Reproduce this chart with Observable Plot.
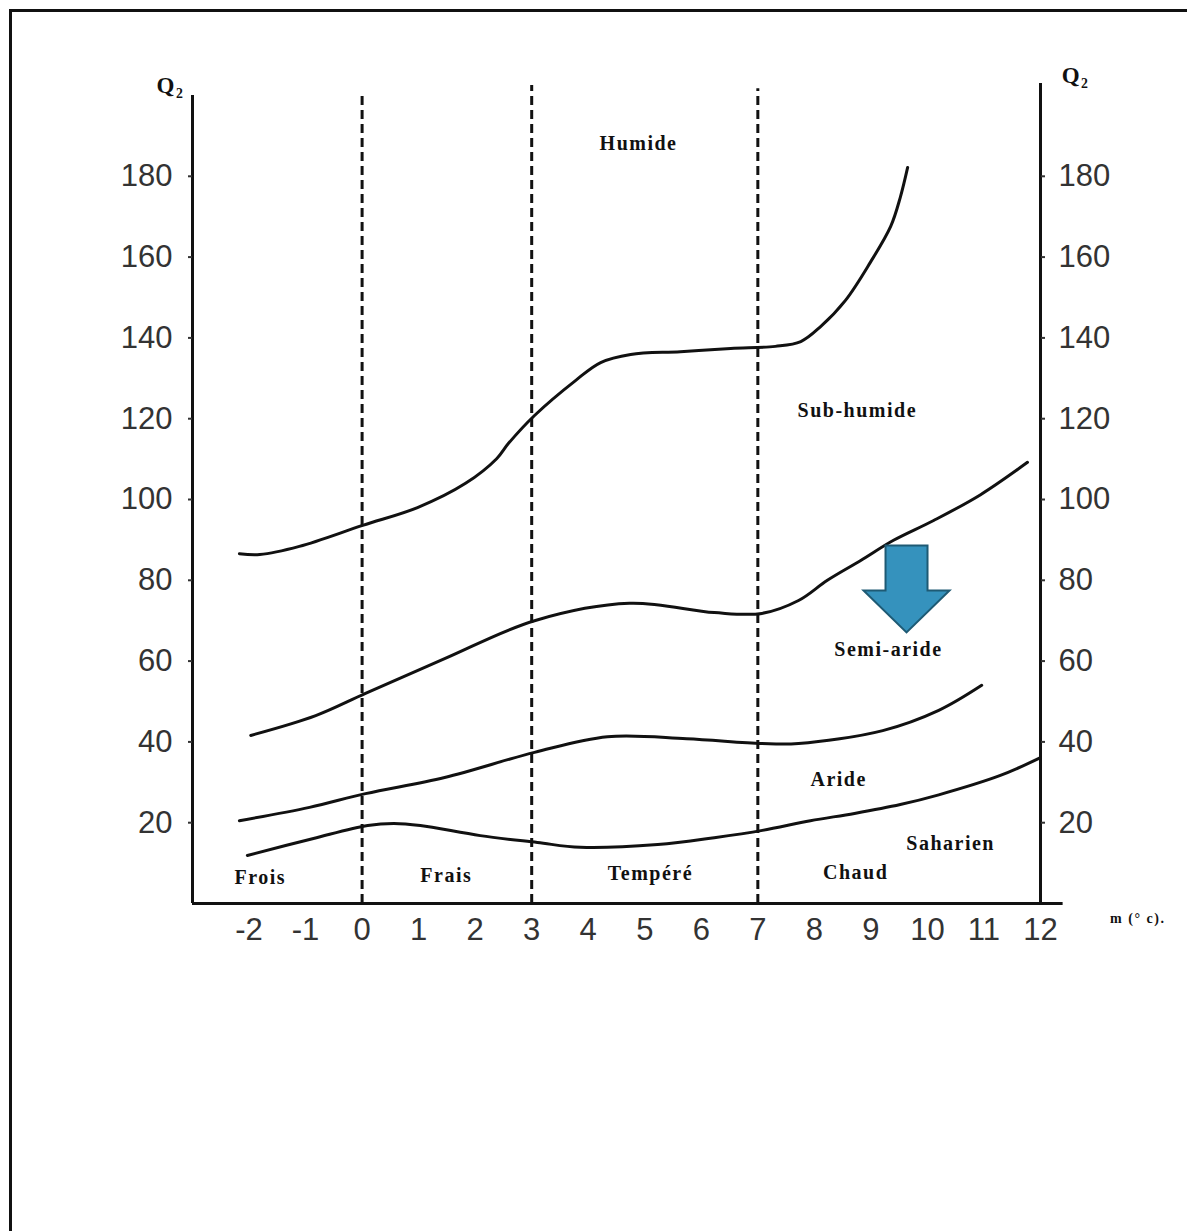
<!DOCTYPE html>
<html><head><meta charset="utf-8">
<script src="https://cdn.jsdelivr.net/npm/d3@7"></script>
<script src="https://cdn.jsdelivr.net/npm/@observablehq/plot@0.6"></script>
<style>
html,body{margin:0;padding:0;background:#fff;}
#wrap{position:relative;width:1187px;height:1231px;overflow:hidden;background:#fff;}
#frame{position:absolute;left:9px;top:9px;right:-20px;bottom:-20px;border-left:3px solid #111;border-top:3px solid #111;pointer-events:none;}
</style></head><body>
<div id="wrap"><div id="chart"></div><div id="frame"></div></div>
<script>
// ---- data ----
const xTicks = [-2,-1,0,1,2,3,4,5,6,7,8,9,10,11,12];
const yTicks = [20,40,60,80,100,120,140,160,180];
const limitM = [0,3,7];
const limitTop = [201,202.5,201.7];

const curveHumide = [[-2.17,86.6],[-1.81,86.4],[-1.11,88.4],[0.01,93.6],[0.98,98.0],[1.83,104.0],[2.38,110.1],[2.59,113.9],[3.05,120.8],[3.78,129.5],[4.22,133.9],[4.75,135.9],[5.63,136.6],[6.52,137.4],[7.31,137.9],[7.76,139.1],[8.11,142.8],[8.55,149.3],[8.99,158.7],[9.35,167.6],[9.52,174.8],[9.65,182.2]];
const curveSubHumide = [[-1.97,41.6],[-0.82,46.5],[0.06,52.0],[1.46,60.6],[3.05,70.0],[4.73,74.3],[6.23,72.0],[7.07,71.8],[7.72,75.0],[8.23,80.0],[8.82,84.9],[9.40,89.9],[10.11,94.8],[10.94,101.2],[11.77,109.2]];
const curveSemiAride = [[-2.17,20.5],[-0.93,23.8],[0.06,27.2],[1.46,31.2],[3.05,37.4],[4.34,41.3],[5.74,40.8],[7.07,39.6],[7.72,39.6],[9.21,42.8],[10.20,47.8],[10.96,54.0]];
const curveAride = [[-2.03,11.9],[-0.86,16.1],[0.10,19.3],[0.56,19.8],[1.03,19.3],[2.09,16.8],[3.10,15.1],[3.86,13.9],[5.23,14.6],[6.23,16.3],[7.08,18.1],[7.93,20.5],[8.71,22.3],[9.52,24.5],[10.20,26.9],[11.29,31.7],[12.0,36.1]];

const regionNames = ["Humide","Sub-humide","Semi-aride","Aride","Saharien","Frois","Frais","Tempéré","Chaud"];
const regionM = [4.89,8.76,9.31,8.43,10.41,-1.8,1.49,5.1,8.73];
const regionQ = [188,122,62.9,30.7,14.9,6.4,6.9,7.4,7.7];

const axisNames = ["Q₂","Q₂"];
const axisNameM = [-3.39,12.62];
const axisNameQ = [202.5,205];
const unitLabel = ["m (° c)."];
const unitM = [13.72];
const unitQ = [-3.7];

const arrowM = [9.63];
const arrowQ = [78.0];

// ---- build ----
const regions = regionNames.map((t,i)=>({t, m:regionM[i], q:regionQ[i]}));
const axisTitles = axisNames.map((t,i)=>({t, m:axisNameM[i], q:axisNameQ[i]}));
const units = unitLabel.map((t,i)=>({t, m:unitM[i], q:unitQ[i]}));
const limits = limitM.map((m,i)=>({m, top:limitTop[i]}));
const arrows = arrowM.map((m,i)=>({m, q:arrowQ[i]}));

const downArrow = {
  draw(ctx, size) {
    const k = Math.sqrt(size / Math.PI) / 10;
    ctx.moveTo(-21*k,-43*k); ctx.lineTo(21*k,-43*k); ctx.lineTo(21*k,2*k);
    ctx.lineTo(43*k,2*k); ctx.lineTo(0,44*k); ctx.lineTo(-43*k,2*k);
    ctx.lineTo(-21*k,2*k); ctx.closePath();
  }
};

const lineOpts = {x:d=>d[0], y:d=>d[1], curve:"catmull-rom", stroke:"#111", strokeWidth:3, strokeLinecap:"round"};
const serif = "'Liberation Serif', 'Times New Roman', serif";
const plainFormat = d => String(d);

const chart = Plot.plot({
  width: 1187, height: 1231,
  marginLeft: 192, marginRight: 147, marginTop: 95, marginBottom: 328,
  x: {domain: [-3, 12]},
  y: {domain: [0, 200]},
  style: {fontFamily: "'Liberation Sans', Arial, sans-serif", fontSize: "31px", background: "transparent", overflow: "visible", color: "#111"},
  marks: [
    Plot.ruleX(limits, {x:"m", y1:0, y2:"top", stroke:"#111", strokeWidth:3, strokeDasharray:"9,5"}),
    Plot.ruleX([-3], {y1:0, y2:200, stroke:"#111", strokeWidth:3}),
    Plot.ruleX([12], {y1:0, y2:203, stroke:"#111", strokeWidth:3}),
    Plot.ruleY([0], {x1:-3, x2:12.4, stroke:"#111", strokeWidth:3}),
    Plot.line(curveHumide, lineOpts),
    Plot.line(curveSubHumide, lineOpts),
    Plot.line(curveSemiAride, lineOpts),
    Plot.line(curveAride, lineOpts),
    Plot.axisY(yTicks, {anchor:"left", tickSize:4, tickPadding:16, label:null, color:"#333", strokeWidth:2, tickFormat: plainFormat}),
    Plot.axisY(yTicks, {anchor:"right", tickSize:4, tickPadding:14, label:null, color:"#333", strokeWidth:2, tickFormat: plainFormat}),
    Plot.axisX(xTicks, {anchor:"bottom", tickSize:0, tickPadding:14, label:null, color:"#333", tickFormat: plainFormat}),
    Plot.text(regions, {x:"m", y:"q", text:"t", fontFamily:serif, fontWeight:"bold", fontSize:20, fill:"#111"}),
    Plot.text(axisTitles, {x:"m", y:"q", text:"t", fontFamily:serif, fontWeight:"bold", fontSize:23, fill:"#111"}),
    Plot.text(units, {x:"m", y:"q", text:"t", fontFamily:serif, fontWeight:"bold", fontSize:14, fill:"#111"}),
    Plot.dot(arrows, {x:"m", y:"q", symbol: downArrow, r:10, fill:"#3592bd", stroke:"#1e5a74", strokeWidth:2})
  ]
});
document.getElementById("chart").appendChild(chart);
d3.select(chart).selectAll('g[aria-label="text"] text').attr("letter-spacing","1.5px");
</script>
</body></html>
